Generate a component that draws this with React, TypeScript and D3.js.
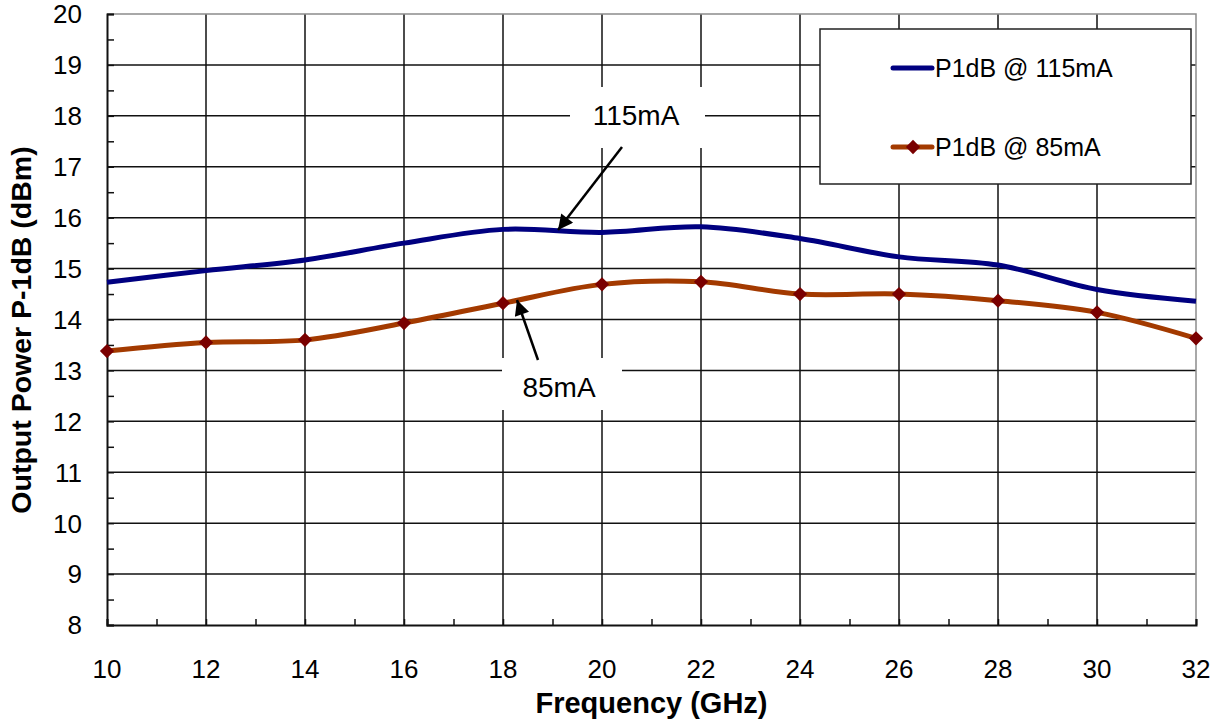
import { useEffect, useRef } from "react";
import * as d3 from "d3";

// chart values
const frequency = [10, 12, 14, 16, 18, 20, 22, 24, 26, 28, 30, 32];
const p1dB115 = [14.73, 14.96, 15.17, 15.5, 15.77, 15.71, 15.82, 15.59, 15.23, 15.07, 14.59, 14.36];
const p1dB85 = [13.38, 13.55, 13.6, 13.93, 14.32, 14.69, 14.74, 14.5, 14.5, 14.37, 14.14, 13.63];
const xTicks = [10, 12, 14, 16, 18, 20, 22, 24, 26, 28, 30, 32];
const yTicks = [8, 9, 10, 11, 12, 13, 14, 15, 16, 17, 18, 19, 20];
const legendLabels = ["P1dB @ 115mA", "P1dB @ 85mA"];

const width = 1225;
const height = 726;
const MARGIN = { top: 14, right: 28, bottom: 101, left: 107 };
const FONT = "Arial, 'Liberation Sans', sans-serif";

const BLUE = "#000080";
const BROWN = "#A33A00";
const MARKER = "#7A0000";

export default function App() {
  const svgRef = useRef<SVGSVGElement | null>(null);

  useEffect(() => {
    const svg = d3.select(svgRef.current);
    svg.selectAll("*").remove();

    const x = d3
      .scaleLinear()
      .domain([10, 32])
      .range([MARGIN.left, width - MARGIN.right - 1]);
    const y = d3
      .scaleLinear()
      .domain([8, 20])
      .range([height - MARGIN.bottom, MARGIN.top]);

    svg.append("rect").attr("width", width).attr("height", height).attr("fill", "#fff");

    // grid
    const grid = svg.append("g");
    grid
      .selectAll("line.h")
      .data(yTicks.filter((d) => d > 8 && d < 20))
      .join("line")
      .attr("x1", x(10))
      .attr("x2", x(32))
      .attr("y1", (d) => y(d))
      .attr("y2", (d) => y(d))
      .attr("stroke", "#111")
      .attr("stroke-width", 1.5);
    grid
      .selectAll("line.v")
      .data(xTicks.filter((d) => d > 10 && d < 32))
      .join("line")
      .attr("x1", (d) => x(d))
      .attr("x2", (d) => x(d))
      .attr("y1", y(20))
      .attr("y2", y(8))
      .attr("stroke", "#111")
      .attr("stroke-width", 1.5);

    // gray top/right border
    svg
      .append("path")
      .attr("d", `M${x(10)},${y(20)}H${x(32)}V${y(8)}`)
      .attr("fill", "none")
      .attr("stroke", "#8c8c8c")
      .attr("stroke-width", 1.5);

    // annotation boxes (white, covering grid)
    svg.append("rect").attr("x", 570).attr("y", 87).attr("width", 135).attr("height", 61).attr("fill", "#fff");
    svg.append("rect").attr("x", 502).attr("y", 358).attr("width", 120).attr("height", 52).attr("fill", "#fff");

    // axes
    const yAxis = d3
      .axisLeft(y)
      .tickValues(d3.range(8, 20.01, 0.5))
      .tickSize(-7)
      .tickFormat(() => "");
    const ya = svg.append("g").attr("transform", `translate(${x(10)},0)`).call(yAxis);
    ya.select(".domain").attr("stroke", "#111").attr("stroke-width", 2);
    ya.selectAll(".tick line").attr("stroke", "#111").attr("stroke-width", 1.5);

    const xAxis = d3
      .axisBottom(x)
      .tickValues(d3.range(10, 32.01, 1))
      .tickSize(-6)
      .tickFormat(() => "");
    const xa = svg.append("g").attr("transform", `translate(0,${y(8)})`).call(xAxis);
    xa.select(".domain").attr("stroke", "#111").attr("stroke-width", 2);
    xa.selectAll(".tick line").attr("stroke", "#111").attr("stroke-width", 1.5);

    // tick labels
    svg
      .append("g")
      .selectAll("text")
      .data(yTicks)
      .join("text")
      .attr("x", 82)
      .attr("y", (d) => y(d))
      .attr("dy", "0.36em")
      .attr("text-anchor", "end")
      .attr("font-family", FONT)
      .attr("font-size", 26)
      .attr("fill", "#000")
      .text((d) => d);
    svg
      .append("g")
      .selectAll("text")
      .data(xTicks)
      .join("text")
      .attr("x", (d) => x(d))
      .attr("y", 678)
      .attr("text-anchor", "middle")
      .attr("font-family", FONT)
      .attr("font-size", 26)
      .attr("fill", "#000")
      .text((d) => d);

    // axis titles
    svg
      .append("text")
      .attr("x", (x(10) + x(32)) / 2)
      .attr("y", 713)
      .attr("text-anchor", "middle")
      .attr("font-family", FONT)
      .attr("font-weight", "bold")
      .attr("font-size", 29)
      .text("Frequency (GHz)");
    svg
      .append("text")
      .attr("transform", `translate(31,330) rotate(-90)`)
      .attr("text-anchor", "middle")
      .attr("font-family", FONT)
      .attr("font-weight", "bold")
      .attr("font-size", 28.5)
      .text("Output Power P-1dB (dBm)");

    // series
    const line = d3
      .line<[number, number]>()
      .x((d) => x(d[0]))
      .y((d) => y(d[1]))
      .curve(d3.curveCatmullRom.alpha(0.5));

    const s115 = frequency.map((f, i) => [f, p1dB115[i]] as [number, number]);
    const s85 = frequency.map((f, i) => [f, p1dB85[i]] as [number, number]);

    svg
      .append("path")
      .attr("d", line(s115))
      .attr("fill", "none")
      .attr("stroke", BLUE)
      .attr("stroke-width", 5);
    svg
      .append("path")
      .attr("d", line(s85))
      .attr("fill", "none")
      .attr("stroke", BROWN)
      .attr("stroke-width", 5);

    const diamond = d3.symbol().type(d3.symbolDiamond2).size(130);
    svg
      .append("g")
      .selectAll("path")
      .data(s85)
      .join("path")
      .attr("transform", (d) => `translate(${x(d[0])},${y(d[1])})`)
      .attr("d", diamond())
      .attr("fill", MARKER);

    // annotations
    const defs = svg.append("defs");
    defs
      .append("marker")
      .attr("id", "ah")
      .attr("viewBox", "0 0 10 10")
      .attr("refX", 10)
      .attr("refY", 5)
      .attr("markerWidth", 7)
      .attr("markerHeight", 6)
      .attr("markerUnits", "strokeWidth")
      .attr("orient", "auto")
      .append("path")
      .attr("d", "M0,0L10,5L0,10z")
      .attr("fill", "#000");

    svg
      .append("line")
      .attr("x1", 622)
      .attr("y1", 147)
      .attr("x2", 558)
      .attr("y2", 230)
      .attr("stroke", "#000")
      .attr("stroke-width", 2.5)
      .attr("marker-end", "url(#ah)");
    svg
      .append("line")
      .attr("x1", 538)
      .attr("y1", 360)
      .attr("x2", 517)
      .attr("y2", 300)
      .attr("stroke", "#000")
      .attr("stroke-width", 2.5)
      .attr("marker-end", "url(#ah)");

    svg
      .append("text")
      .attr("x", 636)
      .attr("y", 125)
      .attr("text-anchor", "middle")
      .attr("font-family", FONT)
      .attr("font-size", 28)
      .text("115mA");
    svg
      .append("text")
      .attr("x", 559)
      .attr("y", 397)
      .attr("text-anchor", "middle")
      .attr("font-family", FONT)
      .attr("font-size", 28)
      .text("85mA");

    // legend
    const lg = svg.append("g");
    lg.append("rect")
      .attr("x", 820)
      .attr("y", 29)
      .attr("width", 371)
      .attr("height", 155)
      .attr("fill", "#fff")
      .attr("stroke", "#222")
      .attr("stroke-width", 1.5);
    const rows = [68, 147];
    const colors = [BLUE, BROWN];
    legendLabels.forEach((label, i) => {
      lg.append("line")
        .attr("x1", 893)
        .attr("x2", 932)
        .attr("y1", rows[i])
        .attr("y2", rows[i])
        .attr("stroke", colors[i])
        .attr("stroke-width", 5)
        .attr("stroke-linecap", "round");
      if (i === 1) {
        lg.append("path")
          .attr("transform", `translate(913,${rows[i]})`)
          .attr("d", diamond())
          .attr("fill", MARKER);
      }
      lg.append("text")
        .attr("x", 935)
        .attr("y", rows[i])
        .attr("dy", "0.36em")
        .attr("font-family", FONT)
        .attr("font-size", 25)
        .text(label);
    });
  }, []);

  return (
    <svg
      ref={svgRef}
      width={width}
      height={height}
      style={{ position: "absolute", left: 0, top: 0 }}
    />
  );
}
